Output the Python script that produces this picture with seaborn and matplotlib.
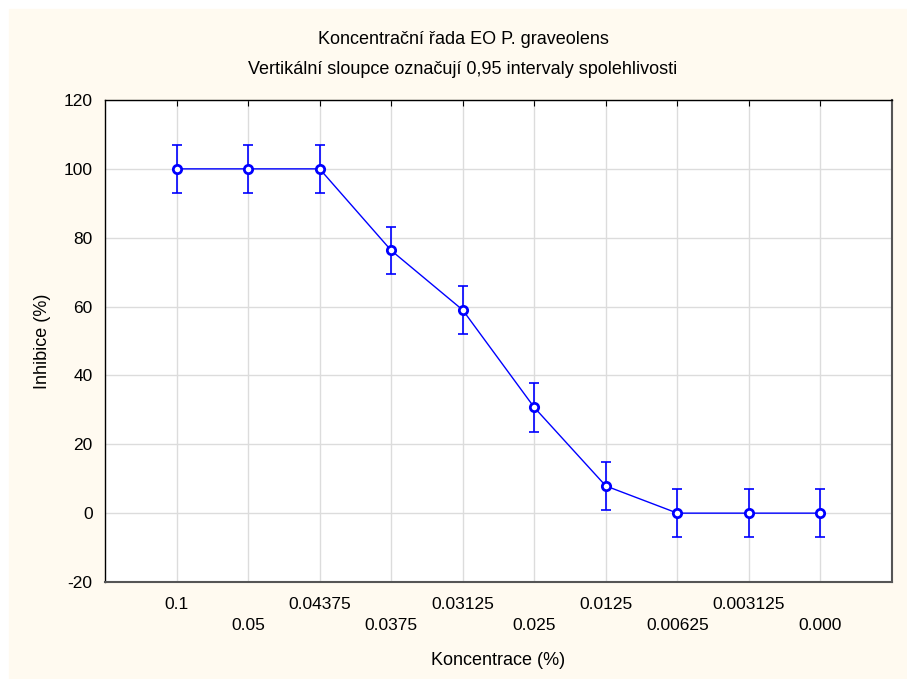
import numpy as np
import pandas as pd
import matplotlib
matplotlib.use("Agg")
import matplotlib.pyplot as plt
import seaborn as sns

# Data
concentrations = ['0.1', '0.05', '0.04375', '0.0375', '0.03125',
                  '0.025', '0.0125', '0.00625', '0.003125', '0.000']
inhibition = [100.0, 100.0, 100.0, 76.3, 59.0, 30.7, 7.9, 0.0, 0.0, 0.0]
ci_half = [7.0, 7.0, 7.0, 6.8, 7.0, 7.0, 7.0, 7.0, 7.0, 7.0]

df = pd.DataFrame({'konc': concentrations, 'inh': inhibition, 'ci': ci_half})
df['pos'] = np.arange(len(df))

sns.set_style('whitegrid')
plt.rcParams['font.family'] = ['Liberation Sans', 'DejaVu Sans']
plt.rcParams['axes.unicode_minus'] = False
plt.rcParams['text.color'] = 'black'
plt.rcParams['axes.labelcolor'] = 'black'
plt.rcParams['xtick.color'] = 'black'
plt.rcParams['ytick.color'] = 'black'

cream = '#FFFAF0'
fig = plt.figure(figsize=(9.07, 6.79), dpi=100, facecolor='white')
bg = plt.Rectangle((9 / 907, 0), 1, 1 - 9 / 679, transform=fig.transFigure,
                   color=cream, zorder=-10)
fig.add_artist(bg)
ax = fig.add_axes([105 / 907, 1 - 582 / 679, 787 / 907, 482 / 679])
ax.set_facecolor('white')

ax.errorbar(df['pos'], df['inh'], yerr=df['ci'], fmt='none', ecolor='#0000FF',
            elinewidth=1.2, capsize=3.5, capthick=1.2, zorder=3)
sns.lineplot(data=df, x='pos', y='inh', ax=ax, color='#0000FF', linewidth=1,
             marker='o', markersize=6, markerfacecolor='white',
             markeredgecolor='#0000FF', markeredgewidth=2, zorder=4)

ax.set_xlim(-1, 10)
ax.set_ylim(-20, 120)
ax.set_yticks(np.arange(-20, 121, 20))
ax.set_xticks(df['pos'])
labels = [c if i % 2 == 0 else '\n' + c for i, c in enumerate(concentrations)]
ax.set_xticklabels(labels, fontsize=12.5, linespacing=1.45)
ax.tick_params(axis='y', labelsize=12.5, length=4, width=0.8, direction='out', pad=5)
ax.tick_params(axis='x', length=4, width=0.8, direction='in', pad=11)
ax.tick_params(top=True, right=False)
ax.grid(True, color='#DCDCDC', linewidth=1)

for s in ax.spines.values():
    s.set_visible(True)
    s.set_color('black')
    s.set_linewidth(1)
ax.spines['bottom'].set_color('#555555')
ax.spines['bottom'].set_linewidth(1.5)
ax.spines['right'].set_color('#555555')
ax.spines['right'].set_linewidth(1.5)

ax.set_xlabel('Koncentrace (%)', fontsize=13, labelpad=14)
ax.set_ylabel('Inhibice (%)', fontsize=13, labelpad=9)

fig.text(463 / 907, 1 - 39 / 679, 'Koncentrační řada EO P. graveolens',
         ha='center', va='center', fontsize=13)
fig.text(463 / 907, 1 - 69 / 679, 'Vertikální sloupce označují 0,95 intervaly spolehlivosti',
         ha='center', va='center', fontsize=13)

fig.savefig('out.png', dpi=100, facecolor=fig.get_facecolor())
